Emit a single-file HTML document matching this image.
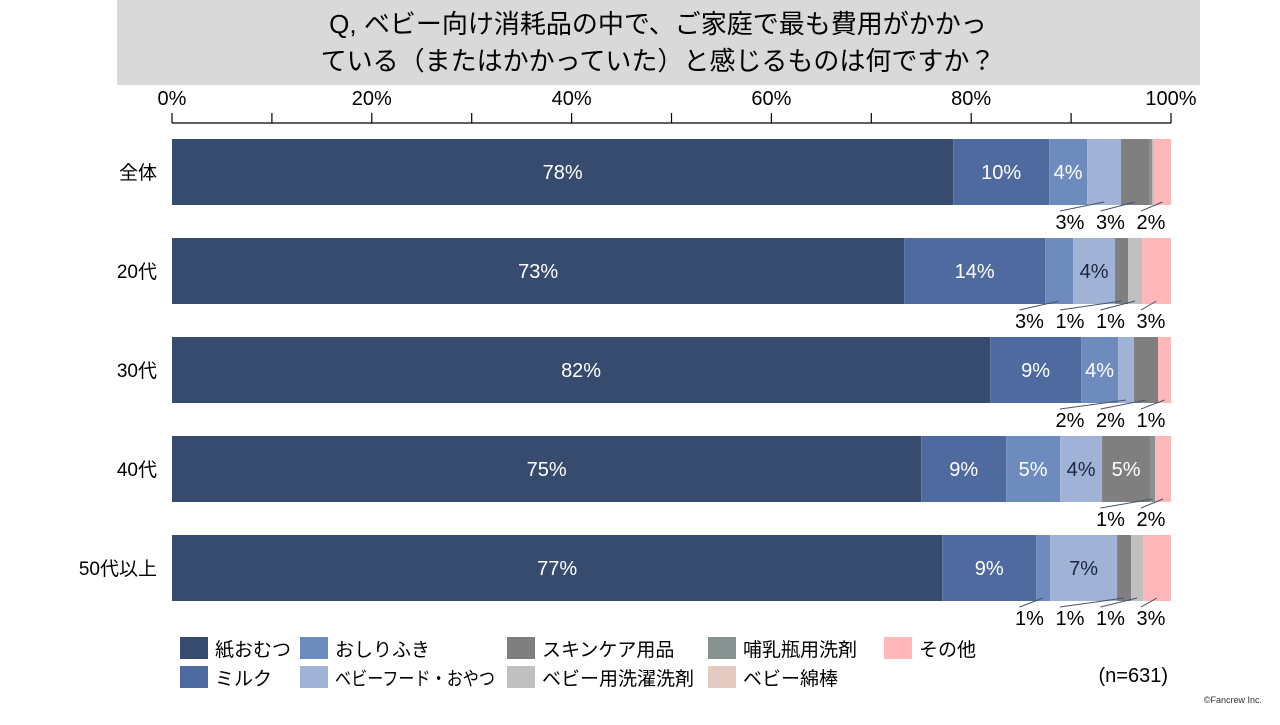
<!DOCTYPE html>
<html><head><meta charset="utf-8">
<style>
body{margin:0;width:1280px;height:720px;background:#fff;overflow:hidden;font-family:"Liberation Sans","Noto Sans CJK JP",sans-serif;}
svg text{font-family:"Liberation Sans","Noto Sans CJK JP",sans-serif;}
</style></head>
<body>
<svg id="chart" width="1280" height="720" xmlns="http://www.w3.org/2000/svg">
<rect x="117" y="0" width="1083" height="85" fill="#d9d9d9"/>
<text x="658" y="33" font-size="26" text-anchor="middle" fill="#000">Q, ベビー向け消耗品の中で、ご家庭で最も費用がかかっ</text>
<text x="658" y="70" font-size="26" text-anchor="middle" fill="#000">ている（またはかかっていた）と感じるものは何ですか？</text>
<text x="1168" y="682" font-size="20" text-anchor="end" fill="#000">(n=631)</text>
<text x="1262" y="703" font-size="9" text-anchor="end" fill="#333">©Fancrew Inc.</text>
<g id="axis"></g><g id="bars"></g><g id="legend"></g>
</svg>
<script>
const rowLabels=["全体","20代","30代","40代","50代以上"];
const seriesNames=["紙おむつ","ミルク","おしりふき","ベビーフード・おやつ","スキンケア用品","哺乳瓶用洗剤","ベビー用洗濯洗剤","ベビー綿棒","その他"];
const diapers=[78.2,73.3,81.9,75.0,77.1];
const milk=[9.6,14.1,9.1,8.5,9.4];
const wipes=[3.8,2.8,3.7,5.4,1.4];
const babyFood=[3.4,4.2,1.6,4.2,6.7];
const skincare=[2.8,1.3,2.4,4.8,1.4];
const bottleDetergent=[0.3,0,0,0.5,0];
const laundry=[0.2,1.4,0,0,1.2];
const swabs=[0,0,0,0,0];
const other=[1.7,2.9,1.3,1.6,2.8];
const tickValues=[0,10,20,30,40,50,60,70,80,90,100];
const series=[diapers,milk,wipes,babyFood,skincare,bottleDetergent,laundry,swabs,other];
const colors=["#364b6e","#4f6a9f","#6e8bbd","#a0b3d6","#7f7f7f","#879390","#c0c0c0","#e4cac1","#ffb8ba"];
const textColors=["#fff","#fff","#fff","#1a2540","#fff","#fff","#000","#000","#000"];
const NS="http://www.w3.org/2000/svg";
const x0=172,x1=1171;
const xs=v=>x0+(x1-x0)*v/100;
const rowY=i=>139+i*99, barH=66;
function el(tag,attrs,parent){const e=document.createElementNS(NS,tag);for(const k in attrs)e.setAttribute(k,attrs[k]);parent.appendChild(e);return e;}
const axis=document.getElementById('axis');
const ax=el('line',{x1:x0,x2:x1,y1:123,y2:123,stroke:'#000','stroke-width':1.2},axis);


tickValues.forEach(t=>{
  const tk=el('line',{x1:xs(t),x2:xs(t),y1:113,y2:123,stroke:'#000','stroke-width':1.2},axis);
  
  
  if(t%20===0){
    const lb=el('text',{x:xs(t),y:105,'font-size':20,'text-anchor':'middle',fill:'#000'},axis);
    lb.textContent=t+'%';
    
    
  }
});
const bars=document.getElementById('bars');
rowLabels.forEach((r,i)=>{
  const y=rowY(i);
  const rl=el('text',{x:157,y:y+barH/2+7,'font-size':19,'text-anchor':'end',fill:'#000'},bars);
  rl.textContent=r;
  
  
  let cum=0;const below=[];
  series.forEach((s,j)=>{
    const v=s[i];const a=xs(cum),b=xs(cum+v);cum+=v;
    if(v<=0)return;
    const rc=el('rect',{x:a,y:y,width:b-a,height:barH,fill:colors[j]},bars);
    
    
    const lab=Math.max(1,Math.round(v))+'%';
    if(v>=3.5){
      const t=el('text',{x:(a+b)/2,y:y+barH/2+7,'font-size':20,'text-anchor':'middle',fill:textColors[j]},bars);
      t.textContent=lab;
      
      
    } else if(v>=0.45){below.push({mid:(a+b)/2,lab});}
  });
  const n=below.length;
  below.forEach((o,k)=>{
    const cx=1151-(n-1-k)*40.5;
    const ln=el('line',{x1:o.mid,y1:y+barH-3,x2:cx-10,y2:y+barH+6,stroke:'#44546a','stroke-width':1},bars);
    
    
    const t=el('text',{x:cx,y:y+barH+24,'font-size':20,'text-anchor':'middle',fill:'#000'},bars);
    t.textContent=o.lab;
    
    
  });
});
const legend=document.getElementById('legend');
const legendOrder=[0,2,4,5,8,1,3,6,7];
const colX=[180,300,507,708,884];
legendOrder.forEach((j,k)=>{
  const row=k<5?0:1,col=k<5?k:k-5;
  const x=colX[col],y=637+row*29;
  const sw=el('rect',{x:x,y:y,width:28,height:22,fill:colors[j]},legend);
  
  
  const t=el('text',{x:x+35,y:y+19,'font-size':19,fill:'#000'},legend);
  if(j===3){t.setAttribute('textLength','160');t.setAttribute('lengthAdjust','spacingAndGlyphs');}
  t.textContent=seriesNames[j];
  
  
});
</script>
</body></html>
